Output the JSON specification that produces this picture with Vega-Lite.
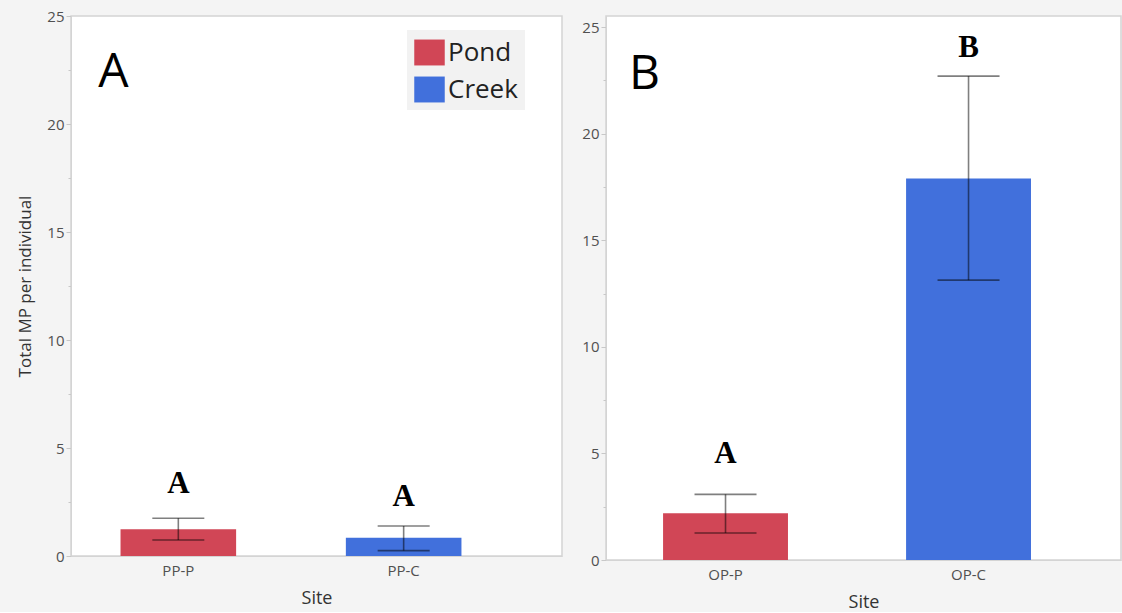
{
  "$schema": "https://vega.github.io/schema/vega-lite/v6.json",
  "background": "#f4f4f4",
  "padding": {"left": 16, "top": 8, "right": 0, "bottom": 0},
  "spacing": 18,
  "datasets": {
    "bars": [
      {"panel": "A", "site": "PP-P", "habitat": "Pond", "mean": 1.24, "lo": 0.74, "hi": 1.75, "letter": "A", "letterY": 2.93},
      {"panel": "A", "site": "PP-C", "habitat": "Creek", "mean": 0.85, "lo": 0.25, "hi": 1.39, "letter": "A", "letterY": 2.31},
      {"panel": "B", "site": "OP-P", "habitat": "Pond", "mean": 2.19, "lo": 1.27, "hi": 3.08, "letter": "A", "letterY": 4.54},
      {"panel": "B", "site": "OP-C", "habitat": "Creek", "mean": 17.9, "lo": 13.13, "hi": 22.7, "letter": "B", "letterY": 23.6}
    ],
    "labels": [
      {"panel": "A", "site": "PP-P", "text": "A", "y": 21.7},
      {"panel": "B", "site": "OP-P", "text": "B", "y": 22.1}
    ]
  },
  "config": {
    "font": "Open Sans",
    "view": {"fill": "white", "stroke": "#d4d4d4", "strokeWidth": 1.5},
    "axis": {
      "grid": false,
      "domainColor": "#d4d4d4",
      "tickColor": "#c8c8c8",
      "labelColor": "#505050",
      "labelFont": "Open Sans",
      "labelFontSize": 15,
      "titleFont": "Open Sans",
      "titleFontWeight": "normal",
      "titleColor": "#333333"
    }
  },
  "hconcat": [
    {
      "width": 491,
      "height": 540,
      "data": {"name": "bars"},
      "transform": [{"filter": "datum.panel === 'A'"}],
      "encoding": {
        "x": {
          "field": "site", "type": "nominal", "sort": ["PP-P", "PP-C"],
          "scale": {"paddingInner": 0.487, "paddingOuter": 0.333, "align": 0.33},
          "axis": {"title": "Site", "titleFontSize": 18, "titlePadding": 11, "labelAngle": 0, "ticks": false, "labelPadding": 7, "labelFontSize": 15}
        }
      },
      "layer": [
        {
          "mark": {"type": "bar"},
          "encoding": {
            "y": {
              "field": "mean", "type": "quantitative",
              "scale": {"domain": [0, 25], "nice": false},
              "axis": {
                "title": "Total MP per individual", "titleFontSize": 17, "titlePadding": 12,
                "values": [0, 2.5, 5, 7.5, 10, 12.5, 15, 17.5, 20, 22.5, 25],
                "labelExpr": "datum.value % 5 === 0 ? datum.label : ''",
                "tickSize": {"condition": {"test": "datum.value % 5 !== 0", "value": 3}, "value": 5},
                "labelPadding": 2
              }
            },
            "color": {
              "field": "habitat", "type": "nominal",
              "scale": {"domain": ["Pond", "Creek"], "range": ["#d14656", "#4170dc"]},
              "legend": {
                "title": null,
                "orient": "none",
                "legendX": 336,
                "legendY": 14,
                "fillColor": "#f2f2f2",
                "padding": 7,
                "rowPadding": 8,
                "symbolType": "M-1,-0.85H1V0.85H-1Z",
                "symbolSize": 930,
                "symbolStrokeWidth": 0,
                "symbolOpacity": 1,
                "labelFontSize": 26,
                "labelColor": "#222222",
                "labelFont": "Open Sans",
                "labelOffset": 3
              }
            }
          }
        },
        {
          "mark": {"type": "rule", "color": "black", "opacity": 0.5, "strokeWidth": 1.6},
          "encoding": {"y": {"field": "lo", "type": "quantitative"}, "y2": {"field": "hi"}}
        },
        {
          "mark": {"type": "tick", "color": "black", "opacity": 0.5, "thickness": 1.6, "size": 52},
          "encoding": {"y": {"field": "lo", "type": "quantitative"}}
        },
        {
          "mark": {"type": "tick", "color": "black", "opacity": 0.5, "thickness": 1.6, "size": 52},
          "encoding": {"y": {"field": "hi", "type": "quantitative"}}
        },
        {
          "mark": {"type": "text", "font": "Liberation Serif", "fontWeight": "bold", "fontSize": 31, "baseline": "alphabetic", "color": "black"},
          "encoding": {"y": {"field": "letterY", "type": "quantitative"}, "text": {"field": "letter"}}
        },
        {
          "data": {"name": "labels"},
          "transform": [{"filter": "datum.panel === 'A'"}],
          "mark": {"type": "text", "fontSize": 48, "baseline": "alphabetic", "color": "black", "dx": -65, "font": "Open Sans"},
          "encoding": {"y": {"field": "y", "type": "quantitative"}, "text": {"field": "text"}}
        }
      ]
    },
    {
      "width": 515,
      "height": 544,
      "data": {"name": "bars"},
      "transform": [{"filter": "datum.panel === 'B'"}],
      "encoding": {
        "x": {
          "field": "site", "type": "nominal", "sort": ["OP-P", "OP-C"],
          "scale": {"paddingInner": 0.486, "paddingOuter": 0.3026, "align": 0.388},
          "axis": {"title": "Site", "titleFontSize": 18, "titlePadding": 11, "labelAngle": 0, "ticks": false, "labelPadding": 7, "labelFontSize": 15}
        }
      },
      "layer": [
        {
          "mark": {"type": "bar"},
          "encoding": {
            "y": {
              "field": "mean", "type": "quantitative",
              "scale": {"domain": [0, 25.52], "nice": false},
              "axis": {
                "title": null,
                "values": [0, 2.5, 5, 7.5, 10, 12.5, 15, 17.5, 20, 22.5, 25],
                "labelExpr": "datum.value % 5 === 0 ? datum.label : ''",
                "tickSize": {"condition": {"test": "datum.value % 5 !== 0", "value": 3}, "value": 5},
                "labelPadding": 2
              }
            },
            "color": {
              "field": "habitat", "type": "nominal",
              "scale": {"domain": ["Pond", "Creek"], "range": ["#d14656", "#4170dc"]},
              "legend": null
            }
          }
        },
        {
          "mark": {"type": "rule", "color": "black", "opacity": 0.5, "strokeWidth": 1.6},
          "encoding": {"y": {"field": "lo", "type": "quantitative"}, "y2": {"field": "hi"}}
        },
        {
          "mark": {"type": "tick", "color": "black", "opacity": 0.5, "thickness": 1.6, "size": 62},
          "encoding": {"y": {"field": "lo", "type": "quantitative"}}
        },
        {
          "mark": {"type": "tick", "color": "black", "opacity": 0.5, "thickness": 1.6, "size": 62},
          "encoding": {"y": {"field": "hi", "type": "quantitative"}}
        },
        {
          "mark": {"type": "text", "font": "Liberation Serif", "fontWeight": "bold", "fontSize": 31, "baseline": "alphabetic", "color": "black"},
          "encoding": {"y": {"field": "letterY", "type": "quantitative"}, "text": {"field": "letter"}}
        },
        {
          "data": {"name": "labels"},
          "transform": [{"filter": "datum.panel === 'B'"}],
          "mark": {"type": "text", "fontSize": 48, "baseline": "alphabetic", "color": "black", "dx": -81, "font": "Open Sans"},
          "encoding": {"y": {"field": "y", "type": "quantitative"}, "text": {"field": "text"}}
        }
      ]
    }
  ],
  "resolve": {"scale": {"color": "shared"}}
}
